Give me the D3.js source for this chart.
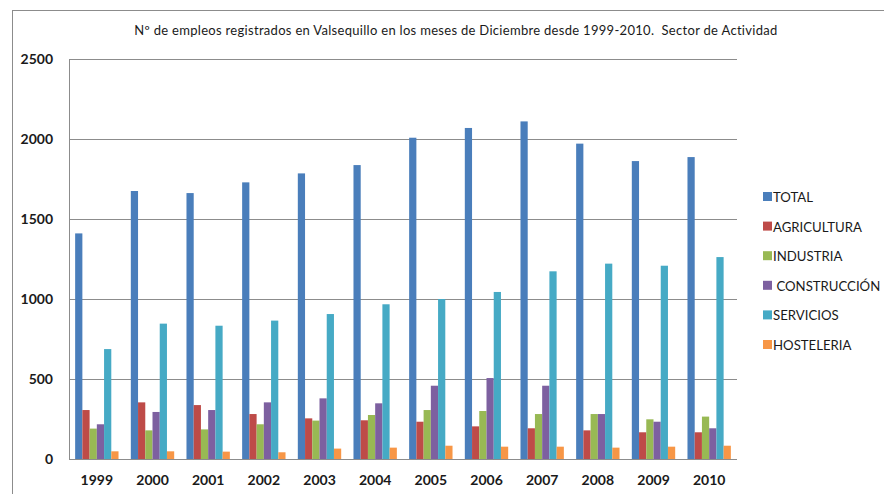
<!DOCTYPE html>
<html><head><meta charset="utf-8">
<script src="https://cdn.jsdelivr.net/npm/d3@7"></script>
<style>body{margin:0;background:#fff}svg{display:block}text{font-family:Lato,"Open Sans",sans-serif}</style>
</head><body>
<script>
const years = ["1999","2000","2001","2002","2003","2004","2005","2006","2007","2008","2009","2010"];
const seriesNames = ["TOTAL","AGRICULTURA","INDUSTRIA"," CONSTRUCCIÓN","SERVICIOS","HOSTELERIA"];
const total        = [1410,1675,1662,1729,1785,1837,2008,2069,2110,1971,1862,1887];
const agricultura  = [306,354,337,281,254,242,233,204,192,179,167,167];
const industria    = [190,179,185,217,240,275,306,300,281,281,248,265];
const construccion = [217,294,306,354,379,348,458,506,458,281,233,192];
const servicios    = [687,846,833,865,906,967,1000,1044,1173,1221,1208,1262];
const hosteleria   = [48,48,46,42,65,71,83,77,77,71,77,83];
const yTicks = [0,500,1000,1500,2000,2500];
const colors = ["#4A7EBB","#BE4B48","#98B954","#7D60A0","#46AAC5","#F79646"];
const title = "Nº de empleos registrados en Valsequillo en los meses de Diciembre desde 1999-2010.  Sector de Actividad";

const values = [total, agricultura, industria, construccion, servicios, hosteleria];
const W = 884, H = 494;
const svg = d3.select("body").append("svg").attr("width", W).attr("height", H);

// outer chart border
svg.append("rect").attr("x",12.5).attr("y",10.5).attr("width",W).attr("height",H)
  .attr("fill","none").attr("stroke","#8c8c8c").attr("stroke-width",1);

const pL = 69, pR = 737, pT = 59, pB = 459;
const x = d3.scaleBand().domain(years).range([pL, pR]).padding(0);
const y = d3.scaleLinear().domain([0,2500]).range([pB, pT]);

// gridlines
svg.append("g").selectAll("line").data(yTicks.filter(d=>d>0)).join("line")
  .attr("x1", pL).attr("x2", pR).attr("y1", d=>y(d)+0.5).attr("y2", d=>y(d)+0.5)
  .attr("stroke","#8c8c8c").attr("stroke-width",1);

// bars
const groupW = x.bandwidth();
const innerW = groupW * 6 / 7.7;
const x1 = d3.scaleBand().domain(d3.range(6)).range([(groupW-innerW)/2, (groupW+innerW)/2]).padding(0);
const data = [];
years.forEach((yr,i)=>{ values.forEach((arr,s)=>{ data.push({yr, s, v: arr[i]}); }); });
svg.append("g").selectAll("rect").data(data).join("rect")
  .attr("x", d=>x(d.yr)+x1(d.s)).attr("width", x1.bandwidth())
  .attr("y", d=>y(d.v)).attr("height", d=>y(0)-y(d.v))
  .attr("fill", d=>colors[d.s]);

// axes lines
svg.append("line").attr("x1",pL+0.5).attr("x2",pL+0.5).attr("y1",pT).attr("y2",pB)
  .attr("stroke","#8c8c8c");
svg.append("line").attr("x1",pL).attr("x2",pR).attr("y1",pB+0.5).attr("y2",pB+0.5)
  .attr("stroke","#8c8c8c");

// y labels
const yAxis = d3.axisLeft(y).tickValues(yTicks).tickSize(0).tickPadding(16).tickFormat(d3.format("d"));
const gy = svg.append("g").attr("transform",`translate(${pL},0)`).call(yAxis);
gy.select(".domain").remove();
gy.selectAll("text").attr("font-size",14).attr("font-weight","bold").attr("fill","#1a1a1a")
  .style("font-family","Lato,sans-serif");

// x labels
const xAxis = d3.axisBottom(x).tickSize(0).tickPadding(16);
const gx = svg.append("g").attr("transform",`translate(0,${pB})`).call(xAxis);
gx.select(".domain").remove();
gx.selectAll("text").attr("font-size",14).attr("font-weight","bold").attr("fill","#1a1a1a")
  .style("font-family","Lato,sans-serif");

// title
svg.append("text").attr("x",456).attr("y",35).attr("text-anchor","middle")
  .attr("font-size",13).attr("letter-spacing","0.3px").attr("fill","#1a1a1a")
  .attr("xml:space","preserve").style("white-space","pre").text(title);

// legend
const lg = svg.append("g").selectAll("g").data(seriesNames).join("g")
  .attr("transform",(d,i)=>`translate(763,${197 + i*29.6})`);
lg.append("rect").attr("x",0).attr("y",-5).attr("width",9).attr("height",9).attr("fill",(d,i)=>colors[i]);
lg.append("text").attr("x",10).attr("y",5).attr("font-size",13.2).attr("fill","#1a1a1a")
  .attr("xml:space","preserve").style("white-space","pre").text(d=>d);
</script>
</body></html>
